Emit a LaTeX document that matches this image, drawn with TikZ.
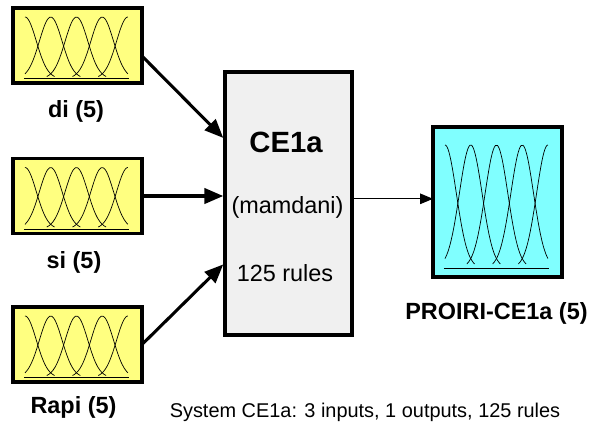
\documentclass[tikz,border=0pt]{standalone}
\usepackage{fontspec}
\setmainfont{Liberation Sans}
\usetikzlibrary{positioning,arrows.meta,calc}
\definecolor{mfin}{RGB}{255,255,128}
\definecolor{mfout}{RGB}{128,255,255}
\definecolor{fisgray}{RGB}{240,240,240}

% five gaussian membership functions in node #1, a box of #2 x #3 cm
\newcommand{\mfcurves}[3]{%
  \begin{scope}[shift={(#1.south west)}, x=#2cm, y=#3cm,
                line width=0.6pt, black]
    \draw (0.085,0.06) -- (0.9,0.06);
    \foreach \k in {0,...,4}{
      \pgfmathsetmacro{\pk}{0.093+0.1995*\k}
      \pgfmathsetmacro{\lo}{max(0.093,\pk-0.23)}
      \pgfmathsetmacro{\hi}{min(0.891,\pk+0.23)}
      \draw plot[domain=\lo:\hi, samples=30, smooth]
        (\x,{0.06+0.82*exp(-((\x-\pk)^2)/(2*0.088^2))});
    }
  \end{scope}}

\begin{document}
\begin{tikzpicture}[x=0.03cm, y=-0.03cm,
  mf/.style n args={3}{rectangle, draw=black, fill=#1, line width=3pt,
              minimum width=#2cm, minimum height=#3cm, inner sep=0pt, outer sep=0pt},
  fis/.style={rectangle, draw=black, fill=fisgray, line width=3pt,
              minimum width=3.81cm, minimum height=7.89cm, inner sep=0pt},
  ar/.style={-{Triangle[length=16pt,width=13pt]}, line width=2.6pt},
  lb/.style={font=\fontsize{20}{22}\selectfont\bfseries},
  tx/.style={font=\fontsize{#1}{#1}\selectfont}
]
\useasboundingbox (0,0) rectangle (592,435);

\node[mf={mfin}{3.87}{2.25}]  (di)   at (77.5,45.5)  {};
\node[mf={mfin}{3.87}{2.25}]  (si)   at (77.5,196)   {};
\node[mf={mfin}{3.87}{2.25}]  (rapi) at (77.5,344.5) {};
\node[fis]                    (ce)   at (288.5,203.5) {};
\node[mf={mfout}{3.87}{4.5}]  (out)  at (497.5,202)  {};

\foreach \n/\h in {di/2.25, si/2.25, rapi/2.25, out/4.5}
  \mfcurves{\n}{3.87}{\h};

\node[lb] (dil)   at (76,111)  {di (5)};
\node[lb] (sil)   at (74,262)  {si (5)};
\node[lb] (rapil) at (73.5,407) {Rapi (5)};
\node[lb] (outl)  at (496.5,313) {PROIRI-CE1a (5)};

\node[font=\fontsize{25}{25}\selectfont\bfseries] (name) at (286,142) {CE1a};
\node[tx=20] (type)  at (287.5,207) {(mamdani)};
\node[tx=20] (rules) at (285,273) {125 rules};
\node[tx=17] (sys)   at (365,412) {System CE1a: 3 inputs, 1 outputs, 125 rules};

\draw[ar] ([yshift=-9pt]di.east) -- ([yshift=56pt]ce.west);
\draw[ar] (si.east) -- (si.east -| ce.west);
\draw[ar] (rapi.east) -- ([yshift=-52pt]ce.west);
\draw[-{Triangle[length=11pt,width=9pt]}, line width=0.8pt]
  ([yshift=4pt]ce.east) -- ([yshift=4pt]ce.east -| out.west);
\end{tikzpicture}
\end{document}
